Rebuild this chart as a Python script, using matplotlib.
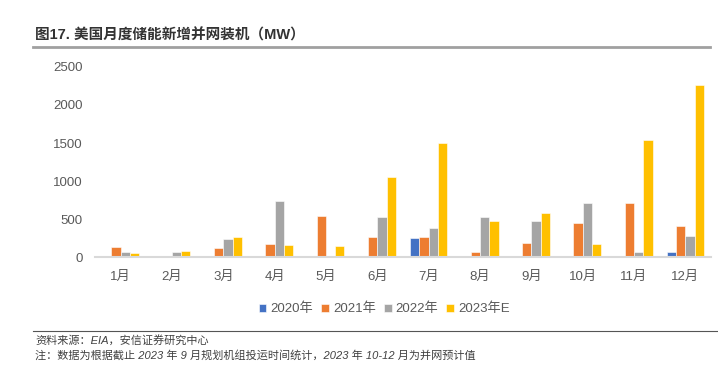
import numpy as np
import matplotlib.pyplot as plt
from matplotlib.lines import Line2D

plt.rcParams['font.family'] = ['Liberation Sans', 'Noto Sans CJK SC', 'DejaVu Sans']

months = ['1月', '2月', '3月', '4月', '5月', '6月', '7月', '8月', '9月', '10月', '11月', '12月']
series = ['2020年', '2021年', '2022年', '2023年E']
v2020 = [20, 10, 22, 22, 13, 5, 249, 26, 0, 17, 17, 70]
v2021 = [140, 10, 127, 179, 545, 268, 262, 70, 188, 458, 711, 414]
v2022 = [70, 74, 244, 737, 8, 530, 388, 524, 484, 720, 74, 279]
v2023 = [61, 87, 266, 166, 144, 1060, 1505, 480, 585, 175, 1536, 2260]
colors = ['#4472C4', '#ED7D31', '#A5A5A5', '#FFC000']

fig = plt.figure(figsize=(7.18, 3.76), dpi=100)
ax = fig.add_axes([0.1323, 0.3152, 0.858, 0.5074])

x = np.arange(len(months))
w = 0.18
for i, vals in enumerate([v2020, v2021, v2022, v2023]):
    ax.bar(x + (i - 1.5) * w, vals, width=w, color=colors[i], edgecolor='white',
           linewidth=0.4, label=series[i])

ax.set_xlim(-0.5, 11.5)
ax.set_ylim(0, 2500)
ax.set_yticks([0, 500, 1000, 1500, 2000, 2500])
ax.set_xticks(x)
ax.set_xticklabels(months)
for s in ['top', 'right', 'left']:
    ax.spines[s].set_visible(False)
ax.spines['bottom'].set_color('#d9d9d9')
ax.spines['bottom'].set_linewidth(1.5)
ax.tick_params(axis='both', length=0, labelsize=9.5, colors='#595959')
ax.tick_params(axis='x', pad=10)
ax.tick_params(axis='y', pad=9)

fig.legend(loc='center', bbox_to_anchor=(0.535, 0.178), ncol=4, frameon=False,
           fontsize=9.5, handlelength=0.6, handleheight=0.6, handletextpad=0.3,
           columnspacing=0.6, labelcolor='#595959')

# title and rules
fig.text(0.049, 0.906, '图17. 美国月度储能新增并网装机（MW）', fontsize=10.5,
         fontweight='bold', color='#333333', va='center')
fig.add_artist(Line2D([0.046, 0.989], [0.876, 0.876], color='#a0a0a0', lw=2))
fig.add_artist(Line2D([0.046, 1.0], [0.12, 0.12], color='#555555', lw=0.8))

fig.text(0.049, 0.096, '资料来源：EIA，安信证券研究中心', fontsize=8, color='#404040',
         va='center', style='italic')
fig.text(0.049, 0.056, '注：数据为根据截止 2023 年 9 月规划机组投运时间统计，2023 年 10-12 月为并网预计值',
         fontsize=8, color='#404040', va='center', style='italic')

fig.savefig('out.png', dpi=100)
